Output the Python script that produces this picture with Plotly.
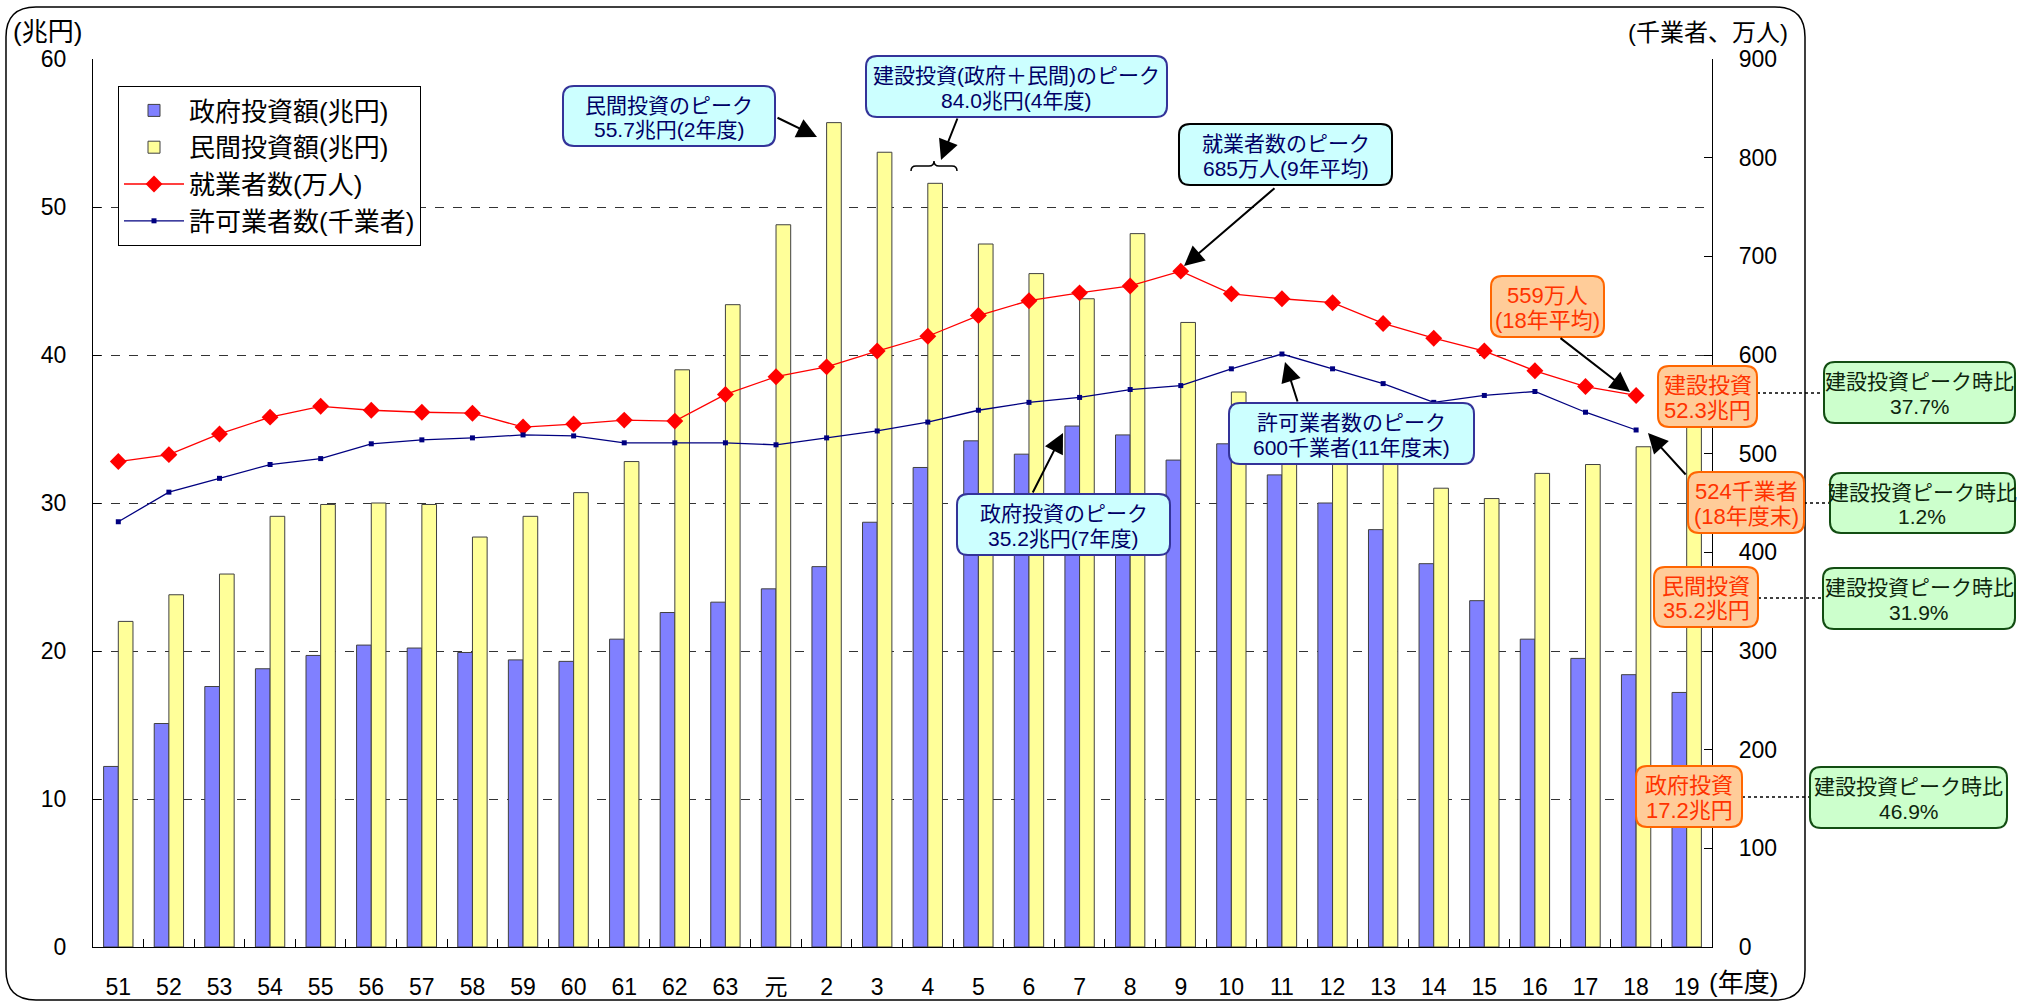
import plotly.graph_objects as go

# ---------------- data ----------------
years = ["51", "52", "53", "54", "55", "56", "57", "58", "59", "60", "61", "62", "63", "元",
         "2", "3", "4", "5", "6", "7", "8", "9", "10", "11", "12", "13", "14", "15", "16", "17", "18", "19"]
gov_invest = [12.2, 15.1, 17.6, 18.8, 19.7, 20.4, 20.2, 19.9, 19.4, 19.3, 20.8, 22.6, 23.3, 24.2,
              25.7, 28.7, 32.4, 34.2, 33.3, 35.2, 34.6, 32.9, 34.0, 31.9, 30.0, 28.2, 25.9, 23.4, 20.8, 19.5, 18.4, 17.2]
priv_invest = [22.0, 23.8, 25.2, 29.1, 29.9, 30.0, 29.9, 27.7, 29.1, 30.7, 32.8, 39.0, 43.4, 48.8,
               55.7, 53.7, 51.6, 47.5, 45.5, 43.8, 48.2, 42.2, 37.5, 36.7, 36.2, 33.3, 31.0, 30.3, 32.0, 32.6, 33.8, 35.2]
workers = [492, 499, 520, 537, 548, 544, 542, 541, 527, 530, 534, 533, 560, 578,
           588, 604, 619, 640, 655, 663, 670, 685, 662, 657, 653, 632, 617, 604, 584, 568, 559, None]
permits = [431, 461, 475, 489, 495, 510, 514, 516, 519, 518, 511, 511, 511, 509,
           516, 523, 532, 544, 552, 557, 565, 569, 586, 601, 586, 571, 552, 559, 563, 542, 524, None]

FONT = "Liberation Sans, Arial, Noto Sans CJK JP, sans-serif"
W, H = 2017, 1002
L, R, T, B = 93, 1712, 59, 947


def px(x):
    return (x - L) / (R - L)


def py(y):
    return (B - y) / (B - T)


def P(x, y):
    return f"{px(x):.5f},{py(y):.5f}"


def rrect(x0, y0, x1, y1, r=10):
    return ("M" + P(x0 + r, y0) + " L" + P(x1 - r, y0) + " Q" + P(x1, y0) + " " + P(x1, y0 + r) +
            " L" + P(x1, y1 - r) + " Q" + P(x1, y1) + " " + P(x1 - r, y1) +
            " L" + P(x0 + r, y1) + " Q" + P(x0, y1) + " " + P(x0, y1 - r) +
            " L" + P(x0, y0 + r) + " Q" + P(x0, y0) + " " + P(x0 + r, y0) + " Z")


fig = go.Figure()
fig.add_trace(go.Bar(x=years, y=gov_invest, name="政府投資額(兆円)", legendgroup="a",
                     marker=dict(color="#8080ff", line=dict(color="#404040", width=1))))
fig.add_trace(go.Bar(x=years, y=priv_invest, name="民間投資額(兆円)", legendgroup="b",
                     marker=dict(color="#ffff99", line=dict(color="#404040", width=1))))
fig.add_trace(go.Scatter(x=years, y=workers, name="就業者数(万人)", yaxis="y2", legendgroup="c",
                         mode="lines+markers", line=dict(color="#ff0000", width=1.3),
                         marker=dict(symbol="diamond", size=13, color="#ff0000")))
fig.add_trace(go.Scatter(x=years, y=permits, name="許可業者数(千業者)", yaxis="y2", legendgroup="d",
                         mode="lines+markers", line=dict(color="#000080", width=1.3),
                         marker=dict(symbol="square", size=5, color="#000080")))

shapes = []
annotations = []

# outer rounded frame
shapes.append(dict(type="path", xref="paper", yref="paper", path=rrect(6, 7, 1805, 1000, 30),
                   line=dict(color="black", width=1.5), fillcolor="rgba(0,0,0,0)", layer="below"))

STY = {
    "cyan": dict(fill="#ccffff", border="#333399", text="#000066"),
    "cyanb": dict(fill="#ccffff", border="#000000", text="#000066"),
    "orange": dict(fill="#ffcc99", border="#ff6600", text="#ff3300"),
    "green": dict(fill="#ccffcc", border="#124d12", text="#0d260d"),
}

boxes = [
    ((563, 86, 775, 146), "cyan", ["民間投資のピーク", "55.7兆円(2年度)"]),
    ((866, 56, 1167, 117), "cyan", ["建設投資(政府＋民間)のピーク", "84.0兆円(4年度)"]),
    ((1179, 124, 1392, 185), "cyanb", ["就業者数のピーク", "685万人(9年平均)"]),
    ((1229, 403, 1474, 464), "cyan", ["許可業者数のピーク", "600千業者(11年度末)"]),
    ((957, 494, 1170, 555), "cyan", ["政府投資のピーク", "35.2兆円(7年度)"]),
    ((1491, 276, 1604, 337), "orange", ["559万人", "(18年平均)"]),
    ((1658, 366, 1757, 427), "orange", ["建設投資", "52.3兆円"]),
    ((1688, 472, 1804, 533), "orange", ["524千業者", "(18年度末)"]),
    ((1654, 567, 1758, 627), "orange", ["民間投資", "35.2兆円"]),
    ((1636, 766, 1742, 827), "orange", ["政府投資", "17.2兆円"]),
    ((1824, 362, 2015, 423), "green", ["建設投資ピーク時比", "37.7%"]),
    ((1830, 473, 2015, 533), "green", ["建設投資ピーク時比", "1.2%"]),
    ((1823, 568, 2015, 629), "green", ["建設投資ピーク時比", "31.9%"]),
    ((1810, 767, 2007, 828), "green", ["建設投資ピーク時比", "46.9%"]),
]

# dotted connectors (drawn before boxes)
for (x0, x1, y) in [(1757, 1824, 393), (1804, 1830, 503), (1758, 1823, 598), (1742, 1810, 797)]:
    shapes.append(dict(type="line", xref="paper", yref="paper", x0=px(x0), x1=px(x1), y0=py(y), y1=py(y),
                       line=dict(color="black", width=1.5, dash="dot"), layer="above"))

for (x0, y0, x1, y1), st, lines in boxes:
    s = STY[st]
    fs = 21 if st != "orange" else 22
    shapes.append(dict(type="path", xref="paper", yref="paper", path=rrect(x0, y0, x1, y1, 11),
                       line=dict(color=s["border"], width=2), fillcolor=s["fill"], layer="above"))
    h = y1 - y0
    for k, txt in enumerate(lines):
        yc = y0 + (0.32 if k == 0 else 0.73) * h
        annotations.append(dict(xref="paper", yref="paper", x=px((x0 + x1) / 2), y=py(yc),
                                text=txt, showarrow=False, xanchor="center", yanchor="middle",
                                font=dict(family=FONT, size=fs, color=s["text"])))

# brace over year-4 bars
brace = ("M" + P(911, 171) + " Q" + P(911, 166) + " " + P(916, 166) + " L" + P(929, 166) +
         " Q" + P(934, 166) + " " + P(934, 161) + " Q" + P(934, 166) + " " + P(939, 166) +
         " L" + P(952, 166) + " Q" + P(957, 166) + " " + P(957, 171))
shapes.append(dict(type="path", xref="paper", yref="paper", path=brace,
                   line=dict(color="black", width=1.5), layer="above"))

# arrows (tail -> tip)
arrows = [((776, 117), (817, 137)), ((958, 117), (941, 160)), ((1276, 187), (1184, 266)),
          ((1559, 337), (1630, 392)), ((1687, 476), (1648, 433)), ((1298, 403), (1285, 362)),
          ((1032, 494), (1063, 433))]
for (tx, ty), (hx, hy) in arrows:
    annotations.append(dict(xref="paper", yref="paper", x=px(hx), y=py(hy), ax=tx - hx, ay=ty - hy,
                            axref="pixel", ayref="pixel", text="", showarrow=True, arrowhead=2,
                            arrowsize=2.0, arrowwidth=2, arrowcolor="black"))

# axis titles
annotations.append(dict(xref="paper", yref="paper", x=px(11), y=py(32), text="(兆円)", showarrow=False,
                        xanchor="left", yanchor="middle", font=dict(family=FONT, size=26, color="black")))
annotations.append(dict(xref="paper", yref="paper", x=px(1790), y=py(33), text="(千業者、万人)", showarrow=False,
                        xanchor="right", yanchor="middle", font=dict(family=FONT, size=24, color="black")))
annotations.append(dict(xref="paper", yref="paper", x=px(1707), y=py(983), text="(年度)", showarrow=False,
                        xanchor="left", yanchor="middle", font=dict(family=FONT, size=26, color="black")))

fig.update_layout(
    width=W, height=H,
    margin=dict(l=L, r=W - R, t=T, b=H - B, pad=0, autoexpand=False),
    paper_bgcolor="white", plot_bgcolor="white",
    barmode="group", bargap=0.42, bargroupgap=0,
    font=dict(family=FONT, size=22, color="black"),
    showlegend=True,
    legend=dict(x=px(118), y=py(86), xanchor="left", yanchor="top", bgcolor="white",
                bordercolor="black", borderwidth=1, font=dict(family=FONT, size=26, color="black"),
                traceorder="grouped", tracegroupgap=0, itemwidth=60),
    xaxis=dict(type="category", range=[-0.5, 31.5], showline=True, linecolor="black", linewidth=1.2,
               ticks="inside", ticklen=8, tickcolor="black", tickson="boundaries", automargin=False,
               ticklabelstandoff=19, tickfont=dict(family=FONT, size=23), showgrid=False),
    yaxis=dict(range=[0, 60], dtick=10, showline=True, linecolor="black", linewidth=1.2, automargin=False,
               ticks="inside", ticklen=8, tickcolor="black", showgrid=True, gridcolor="#333333",
               griddash="dash", gridwidth=1, zeroline=False, ticklabelstandoff=21,
               tickfont=dict(family=FONT, size=23)),
    yaxis2=dict(range=[0, 900], dtick=100, overlaying="y", side="right", showline=True, automargin=False,
                linecolor="black", linewidth=1.2, ticks="inside", ticklen=8, tickcolor="black",
                showgrid=False, zeroline=False, ticklabelstandoff=21, tickfont=dict(family=FONT, size=23)),
    shapes=shapes,
    annotations=annotations,
)

fig.write_html("out.html", config={"displayModeBar": False},
               post_script="document.body.style.margin='0';document.body.style.overflow='hidden';")
